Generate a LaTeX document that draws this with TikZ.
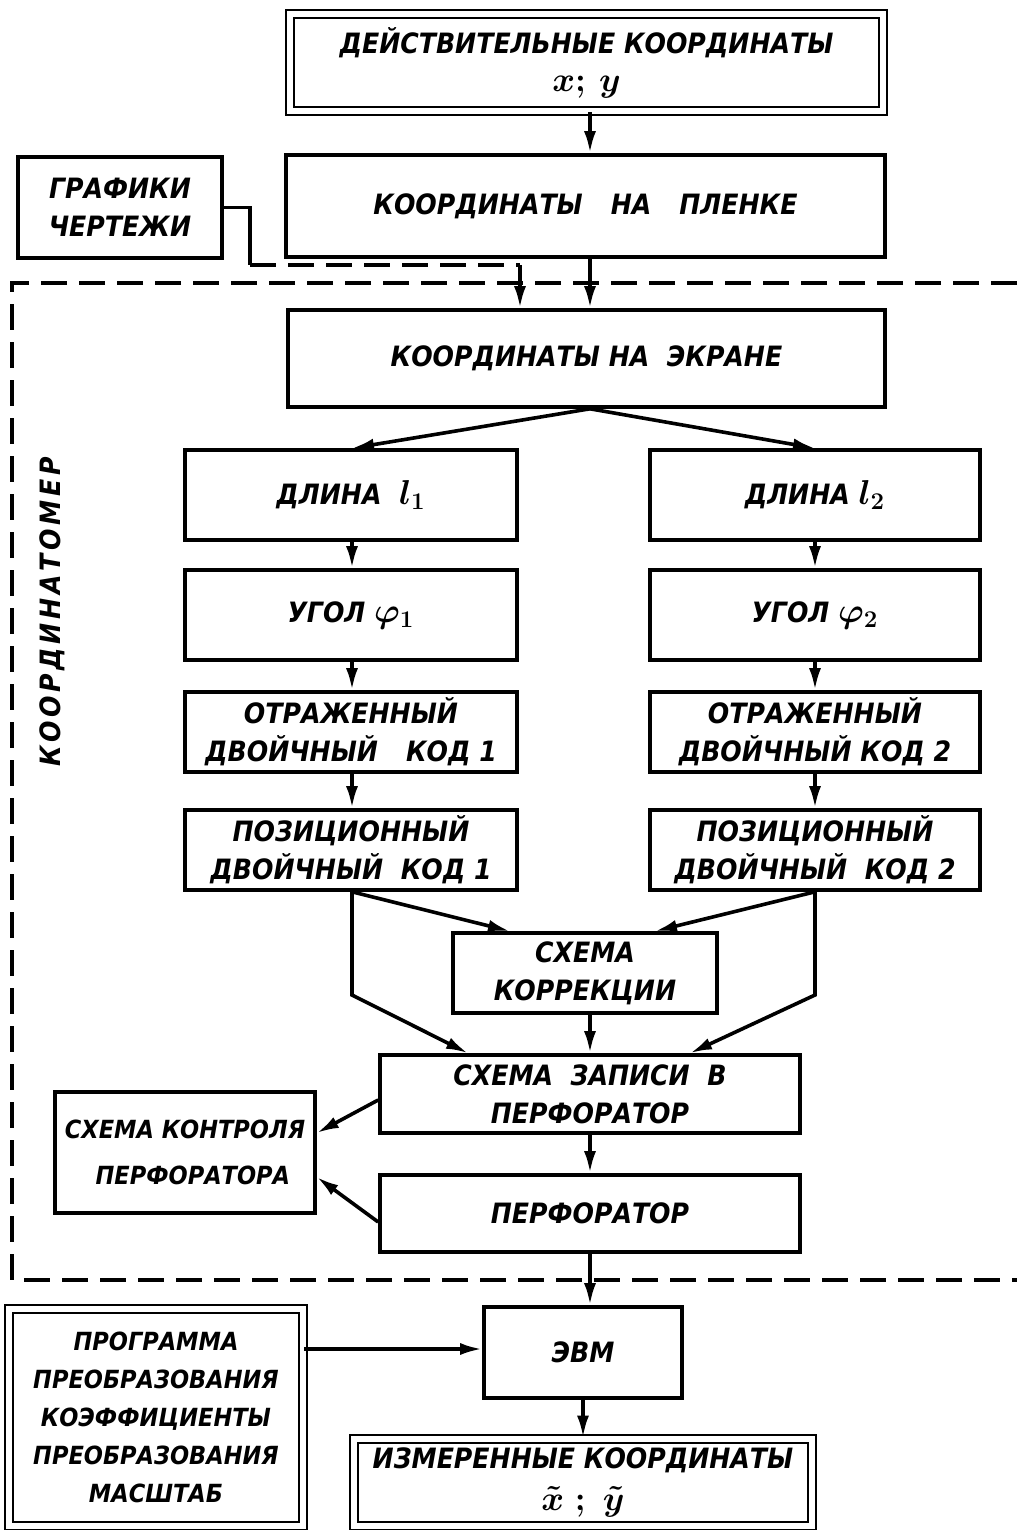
\documentclass[tikz,border=0pt]{standalone}
\usepackage{fontspec}
\setmainfont{DejaVu Sans}[FakeStretch=0.9]
\usetikzlibrary{arrows.meta,calc}
\newcommand\lab{\fontsize{14}{19}\selectfont\bfseries\itshape\boldmath}
\newcommand\labs{\fontsize{12.5}{19}\selectfont\bfseries\itshape\boldmath}
\newcommand\mysz{\fontsize{17}{19}\selectfont}
\begin{document}
\begin{tikzpicture}[x=0.5pt,y=-0.5pt,
 box/.style={draw, line width=1.8pt, inner sep=0pt, align=center, font=\lab},
 sz/.style 2 args={minimum width={#1*0.5pt}, minimum height={#2*0.5pt}},
 dbox/.style={box, double, double distance=2.6pt, line width=1.4pt},
 arr/.style={line width=1.8pt, -{Latex[length=11pt,width=6pt]}},
 ln/.style={line width=1.8pt},
 dashln/.style={line width=1.8pt, dash pattern=on 13pt off 6pt},
]
\useasboundingbox (0,0) rectangle (1017,1530);
% boxes
\node[dbox, sz={593}{97}] (top) at (586.5,62.5) {ДЕЙСТВИТЕЛЬНЫЕ КООРДИНАТЫ\\{\mysz$x;\,y$}};
\node[box, sz={599}{102}] (film) at (585.5,206) {КООРДИНАТЫ\quad НА\quad ПЛЕНКЕ};
\node[box, sz={204}{101}] (graf) at (120,207.5) {ГРАФИКИ\\ЧЕРТЕЖИ};
\node[box, sz={597}{97}] (scr) at (586.5,358.5) {КООРДИНАТЫ НА\ \ ЭКРАНЕ};
\node[box, sz={332}{90}] (len1) at (351,495) {ДЛИНА\ \ {\mysz$l_1$}};
\node[box, sz={332}{90}] (ang1) at (351,615) {УГОЛ {\mysz$\varphi_1$}};
\node[box, sz={332}{80}] (ref1) at (351,732) {ОТРАЖЕННЫЙ\\ДВОЙЧНЫЙ\quad КОД 1};
\node[box, sz={332}{80}] (pos1) at (351,850) {ПОЗИЦИОННЫЙ\\ДВОЙЧНЫЙ\ \ КОД 1};
\node[box, sz={330}{90}] (len2) at (815,495) {ДЛИНА {\mysz$l_2$}};
\node[box, sz={330}{90}] (ang2) at (815,615) {УГОЛ {\mysz$\varphi_2$}};
\node[box, sz={330}{80}] (ref2) at (815,732) {ОТРАЖЕННЫЙ\\ДВОЙЧНЫЙ КОД 2};
\node[box, sz={330}{80}] (pos2) at (815,850) {ПОЗИЦИОННЫЙ\\ДВОЙЧНЫЙ\ \ КОД 2};
\node[box, sz={264}{80}] (corr) at (585,973) {СХЕМА\\КОРРЕКЦИИ};
\node[box, sz={420}{78}] (rec) at (590,1094) {СХЕМА\ \ ЗАПИСИ\ \ В\\ПЕРФОРАТОР};
\node[box, sz={420}{77}] (perf) at (590,1213.5) {ПЕРФОРАТОР};
\node[box, sz={260}{121}, font=\labs] (ctrl) at (185,1152.5) {СХЕМА КОНТРОЛЯ\\[4pt]\ \ ПЕРФОРАТОРА};
\node[box, sz={198}{91}] (evm) at (583,1352.5) {ЭВМ};
\node[dbox, sz={294}{217}, font=\labs] (prog) at (156,1417.5) {ПРОГРАММА\\ПРЕОБРАЗОВАНИЯ\\КОЭФФИЦИЕНТЫ\\ПРЕОБРАЗОВАНИЯ\\МАСШТАБ};
\node[dbox, sz={458}{87}] (meas) at (583,1482.5) {ИЗМЕРЕННЫЕ КООРДИНАТЫ\\[2pt]{\mysz$\tilde{x}\ ;\ \tilde{y}$}};
\node[font=\lab\addfontfeature{LetterSpace=13}, rotate=90] (kl) at (52,612) {КООРДИНАТОМЕР};
% frame
\coordinate (f1) at (1017,283);
\coordinate (f2) at (12,283);
\coordinate (f3) at (12,1280);
\coordinate (f4) at (1017,1280);
\draw[dashln] (f1) -- (f2) -- (f3) -- (f4);
% helper coordinates
\coordinate (ax) at (590,0);
\coordinate (bx) at (583,0);
\coordinate (lx) at (352,0);
\coordinate (rx) at (815,0);
\coordinate (g1) at (250,265);
\coordinate (g2) at (520,265);
\coordinate (c1) at (510,0);
\coordinate (c2) at (655,0);
\coordinate (b1) at (352,995);
\coordinate (b2) at (815,995);
\coordinate (d1) at (468,0);
\coordinate (d2) at (690,0);
\coordinate (e1) at (0,1100);
\coordinate (e2) at (0,1133);
\coordinate (e3) at (0,1222);
\coordinate (e4) at (0,1177);
\coordinate (e5) at (0,1349);
% connectors
\draw[arr] (top.south -| ax) -- (film.north -| ax);
\draw[arr] (film.south -| ax) -- (scr.north -| ax);
\draw[ln] (graf.east) -| (g1);
\draw[dashln] (g1) -- (g2);
\draw[arr] (g2) -- (scr.north -| g2);
\draw[arr] (scr.south -| ax) -- (len1.north -| lx);
\draw[arr] (scr.south -| ax) -- (len2.north -| rx);
\draw[arr] (len1.south -| lx) -- (ang1.north -| lx);
\draw[arr] (ang1.south -| lx) -- (ref1.north -| lx);
\draw[arr] (ref1.south -| lx) -- (pos1.north -| lx);
\draw[arr] (len2.south -| rx) -- (ang2.north -| rx);
\draw[arr] (ang2.south -| rx) -- (ref2.north -| rx);
\draw[arr] (ref2.south -| rx) -- (pos2.north -| rx);
\draw[arr] (pos1.south -| lx) -- (corr.north -| c1);
\draw[arr] (pos2.south -| rx) -- (corr.north -| c2);
\draw[arr] (pos1.south -| lx) -- (b1) -- (rec.north -| d1);
\draw[arr] (pos2.south -| rx) -- (b2) -- (rec.north -| d2);
\draw[arr] (corr.south -| ax) -- (rec.north -| ax);
\draw[arr] (rec.west |- e1) -- (ctrl.east |- e2);
\draw[arr] (perf.west |- e3) -- (ctrl.east |- e4);
\draw[arr] (rec.south -| ax) -- (perf.north -| ax);
\draw[arr] (perf.south -| ax) -- (evm.north -| ax);
\draw[arr] (prog.east |- e5) -- (evm.west |- e5);
\draw[arr] (evm.south -| bx) -- (meas.north -| bx);
\end{tikzpicture}
\end{document}
